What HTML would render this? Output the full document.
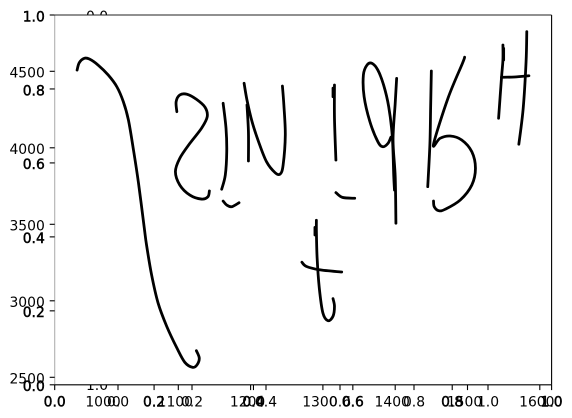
<!DOCTYPE html>
<html lang="en">
<head>
<meta charset="utf-8">
<title>Handwriting stroke chart</title>
<style>
html,body{margin:0;padding:0;background:#fff;}
svg{display:block;}
text{font-family:"DejaVu Sans","Liberation Sans",sans-serif;font-size:13.9px;fill:#000;}
</style>
</head>
<body>
<svg id="chart" xmlns="http://www.w3.org/2000/svg" width="572" height="418" viewBox="0 0 572 418"></svg>
<script>
const unitTicks = [0, 0.2, 0.4, 0.6, 0.8, 1];
const dataXTicks = [1100, 1200, 1300, 1400, 1500, 1600];
const dataXLabels = [1000, 1100, 1200, 1300, 1400, 1500, 1600];
const dataYTicks = [4500, 4000, 3500, 3000, 2500];
const hiddenAxisLabels = [0, 1];

const strokesX = [
  [960,963,970,977,989,1003,1015,1024,1031,1038,1045,1053,1056,1063,1072,1084,1098,1109,1120,1126,1129,1125],
  [1098,1097,1102,1112,1125,1137,1140,1132,1116,1102,1096,1102,1116,1132,1141,1143],
  [1162,1166,1167,1165,1160],
  [1162,1167,1174,1184],
  [1191,1195,1202,1211,1222,1234,1241,1245,1248,1246,1244],
  [1197,1197,1195],
  [1316,1316,1318],
  [1314,1314],
  [1318,1327,1344],
  [1394,1390,1383,1376,1365,1357,1356,1361,1368,1376,1384,1391,1396,1398,1399],
  [1402,1400,1397,1400,1401],
  [1450,1449,1448,1445],
  [1496,1493,1473,1453,1462,1476,1492,1506,1511,1506,1490,1469,1460,1454,1453],
  [1549,1549,1547,1543],
  [1550,1550],
  [1547,1565,1585],
  [1582,1581,1577,1571],
  [1291,1291,1292,1295,1300,1307,1314,1316,1314],
  [1289,1289],
  [1271,1277,1295,1326]
];
const strokesY = [
  [4508,4556,4585,4580,4541,4476,4399,4301,4182,3986,3768,3474,3367,3171,2986,2833,2692,2598,2565,2582,2626,2674],
  [4236,4301,4345,4350,4317,4265,4203,4127,4029,3931,3844,3757,3691,3665,3680,3718],
  [4291,4127,3974,3822,3729],
  [3652,3626,3615,3641],
  [4422,4312,4171,4040,3909,3837,3829,3888,4084,4280,4404],
  [3914,4105,4280],
  [4410,4193,3920],
  [4390,4334],
  [3707,3676,3670],
  [4069,4029,4007,4040,4171,4334,4476,4541,4552,4508,4410,4269,4073,3816,3724],
  [4454,4291,4051,3811,3507],
  [4502,4263,4023,3746],
  [4592,4552,4324,4023,4062,4077,4051,3974,3866,3757,3659,3598,3589,3615,3652],
  [4672,4574,4456,4193],
  [4650,4574],
  [4461,4463,4471],
  [4759,4561,4256,4023],
  [3526,3454,3280,3084,2920,2870,2899,2964,3014],
  [3480,3430],
  [3252,3225,3203,3188]
];

const NS = 'http://www.w3.org/2000/svg';
const svg = document.getElementById('chart');
const box = {left: 54.7, right: 551.6, top: 15, bottom: 384.8};

function unitX(v){ return box.left + v * (box.right - box.left); }
function unitY(v){ return box.bottom - v * (box.bottom - box.top); }
function insetX(v){ return 118 + v * 370; }
function dataX(v){ return 106 + (v - 1000) * 0.723; }
function dataY(v){ return 71.3 + (4500 - v) * 0.153; }

function makeLine(x1, y1, x2, y2, color, width){
  const el = document.createElementNS(NS, 'line');
  el.setAttribute('x1', x1);
  el.setAttribute('y1', y1);
  el.setAttribute('x2', x2);
  el.setAttribute('y2', y2);
  el.setAttribute('stroke', color);
  el.setAttribute('stroke-width', width);
  svg.appendChild(el);
  return el;
}
function makeText(str, x, y, anchor, heavy){
  const el = document.createElementNS(NS, 'text');
  el.setAttribute('x', x);
  el.setAttribute('y', y);
  el.setAttribute('text-anchor', anchor);
  if (heavy) {
    el.setAttribute('stroke', '#000');
    el.setAttribute('stroke-width', '0.45');
  }
  el.textContent = str;
  svg.appendChild(el);
  return el;
}
function xTick(px){
  const t = makeLine(px, box.bottom, px, box.bottom + 5.3, '#000', 1.1);
  
  
}
function yTick(py){
  const t = makeLine(box.left - 5, py, box.left, py, '#000', 1.1);
  
  
}
function xLabel(str, px, heavy){
  const t = makeText(str, px, 406.7, 'middle', heavy);
  
  
}
function yLabel(str, py, heavy){
  const t = makeText(str, 44.8, py + 6.3, 'end', heavy);
  
  
}

/* labels of the axes sitting underneath the plot background */
hiddenAxisLabels.forEach(function(v){
  const t = makeText(v.toFixed(1), 97, v === 0 ? 21 : 390.2, 'middle', false);
  
  
});

const bg = document.createElementNS(NS, 'rect');
bg.setAttribute('x', box.left);
bg.setAttribute('y', box.top);
bg.setAttribute('width', box.right - box.left);
bg.setAttribute('height', box.bottom - box.top);
bg.setAttribute('fill', '#fff');


svg.appendChild(bg);

/* strokes */
function smoothPath(pts){
  let d = 'M' + pts[0][0].toFixed(2) + ' ' + pts[0][1].toFixed(2);
  for (let i = 0; i < pts.length - 1; i++){
    const p0 = pts[Math.max(0, i - 1)], p1 = pts[i], p2 = pts[i + 1], p3 = pts[Math.min(pts.length - 1, i + 2)];
    const c1x = p1[0] + (p2[0] - p0[0]) / 6, c1y = p1[1] + (p2[1] - p0[1]) / 6;
    const c2x = p2[0] - (p3[0] - p1[0]) / 6, c2y = p2[1] - (p3[1] - p1[1]) / 6;
    d += 'C' + c1x.toFixed(2) + ' ' + c1y.toFixed(2) + ' ' + c2x.toFixed(2) + ' ' + c2y.toFixed(2) + ' ' + p2[0].toFixed(2) + ' ' + p2[1].toFixed(2);
  }
  return d;
}
strokesX.forEach(function(xs, i){
  const pts = xs.map(function(x, j){ return [dataX(x), dataY(strokesY[i][j])]; });
  const p = document.createElementNS(NS, 'path');
  p.setAttribute('d', smoothPath(pts));
  p.setAttribute('fill', 'none');
  p.setAttribute('stroke', '#000');
  p.setAttribute('stroke-width', '2.78');
  p.setAttribute('stroke-linecap', 'round');
  p.setAttribute('stroke-linejoin', 'round');
  
  
  svg.appendChild(p);
});

/* spines */
const spineLeft = makeLine(box.left, box.top, box.left, box.bottom, '#b0b0b0', 1.1);


const spineRight = makeLine(box.right, box.top, box.right, box.bottom, '#000', 1.1);


const spineTop = makeLine(box.left, box.top, box.right, box.top, '#222', 1.1);


const spineBottom = makeLine(box.left, box.bottom, box.right, box.bottom, '#000', 1.1);



/* ticks */
unitTicks.forEach(function(v){ xTick(unitX(v)); yTick(unitY(v)); xTick(insetX(v)); });
dataXTicks.forEach(function(v){ xTick(dataX(v)); });
dataYTicks.forEach(function(v){ yTick(dataY(v)); });

/* labels */
dataYTicks.forEach(function(v){ yLabel(String(v), dataY(v), false); });
dataXLabels.forEach(function(v){ xLabel(String(v), dataX(v) - 3, false); });
unitTicks.forEach(function(v){ xLabel(v.toFixed(1), insetX(v), false); });
unitTicks.forEach(function(v){
  xLabel(v.toFixed(1), unitX(v), true);
  yLabel(v.toFixed(1), unitY(v), true);
});
</script>
</body>
</html>
